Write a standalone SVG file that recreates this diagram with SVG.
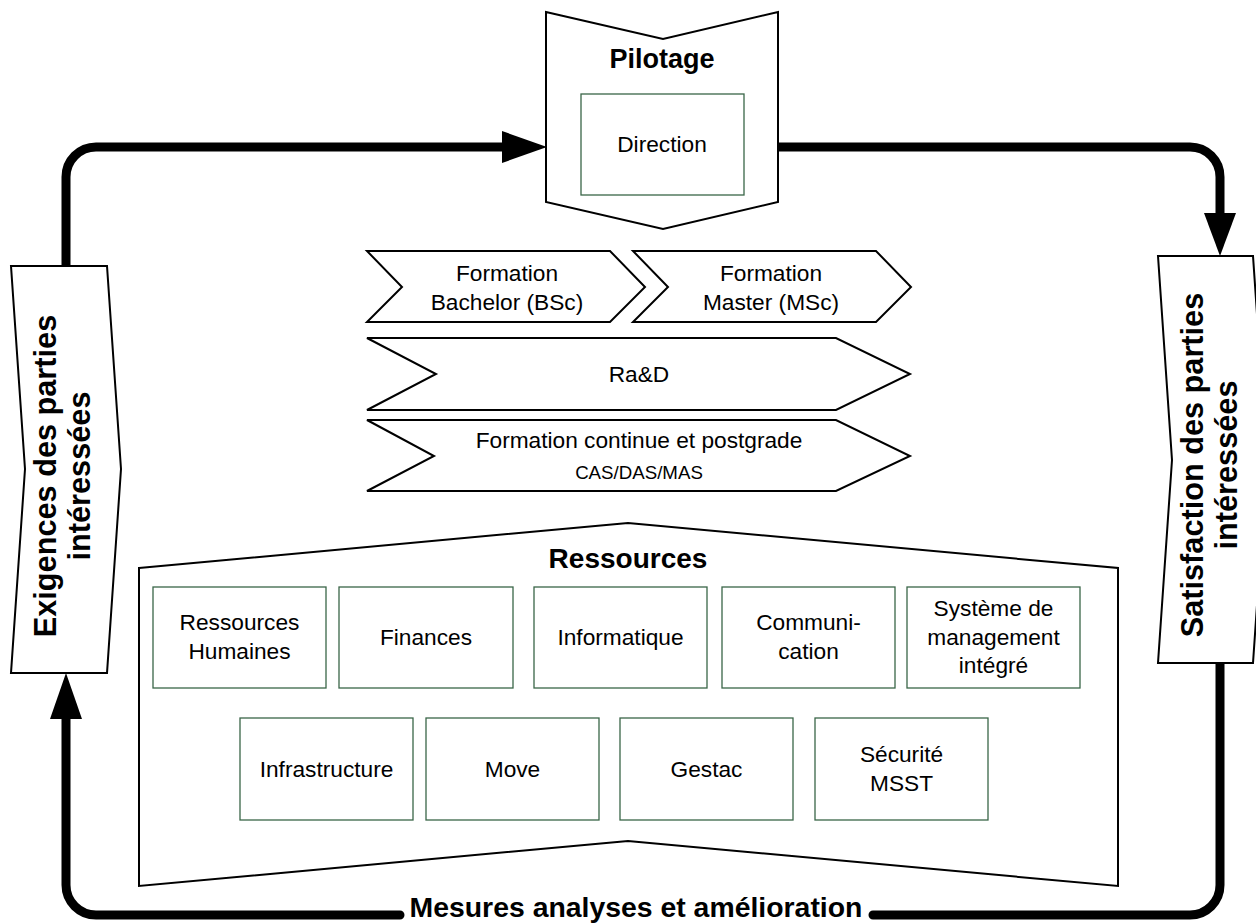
<svg xmlns="http://www.w3.org/2000/svg" width="1256" height="923" viewBox="0 0 1256 923">
<style>
.shape{fill:#fff;stroke:#000;stroke-width:2;stroke-linejoin:miter}
.box{fill:#fff;stroke:#3a6648;stroke-width:1.3}
.t{font-family:"Liberation Sans",Arial,sans-serif;font-size:22.7px;fill:#000;text-anchor:middle}
.s{font-size:18.7px}
.b{font-family:"Liberation Sans",Arial,sans-serif;font-weight:bold;fill:#000;text-anchor:middle}
.flow{fill:none;stroke:#000;stroke-width:9;stroke-linecap:round;stroke-linejoin:round}
.head{fill:#000;stroke:none}
</style>
<rect width="1256" height="923" fill="#fff"/>

<g id="connectors">
<path class="flow" d="M66,265 V177 A30,30 0 0 1 96,147 H505"/>
<polygon class="head" points="547,147 502,131 502,163"/>
<path class="flow" d="M778,147 H1190 A30,30 0 0 1 1220,177 V215"/>
<polygon class="head" points="1220,256 1204,213 1236,213"/>
<path class="flow" d="M400,915 H96 A30,30 0 0 1 66,885 V716"/>
<polygon class="head" points="66,673 50,719 82,719"/>
<path class="flow" d="M873,915 H1190 A30,30 0 0 0 1220,885 V663"/>
</g>

<g id="pilotage">
<polygon class="shape" points="546,12 663,39 778,12 778,202 663,229 546,202"/>
<text class="b" x="662" y="68" font-size="27">Pilotage</text>
</g>
<g id="direction">
<rect class="box" x="581" y="94" width="163" height="101"/>
<text class="t" x="662" y="152">Direction</text>
</g>

<g id="exigences">
<polygon class="shape" points="11,266 107,266 121,469 107,673 11,673 25,469"/>
<text class="b" font-size="30.7" transform="translate(0,476) rotate(-90)"><tspan x="0" y="56">Exigences des parties</tspan><tspan x="0" y="90">intéressées</tspan></text>
</g>

<g id="satisfaction">
<polygon class="shape" points="1158,256 1253,256 1267,460 1253,663 1158,663 1172,460"/>
<text class="b" font-size="30.7" transform="translate(0,465) rotate(-90)"><tspan x="0" y="1203">Satisfaction des parties</tspan><tspan x="0" y="1237">intéressées</tspan></text>
</g>

<g id="bachelor">
<polygon class="shape" points="367,251 610,251 645,287 610,322 367,322 402,287"/>
<text class="t"><tspan x="507" y="281">Formation</tspan><tspan x="507" y="310">Bachelor (BSc)</tspan></text>
</g>
<g id="master">
<polygon class="shape" points="633,251 876,251 911,287 876,322 633,322 668,287"/>
<text class="t"><tspan x="771" y="281">Formation</tspan><tspan x="771" y="310">Master (MSc)</tspan></text>
</g>
<g id="rad">
<polygon class="shape" points="367,338 836,338 910,374 836,410 367,410 436,374"/>
<text class="t" x="639" y="382">Ra&amp;D</text>
</g>
<g id="continue">
<polygon class="shape" points="367,420 836,420 910,456 836,491 367,491 434,456"/>
<text class="t" x="639" y="448">Formation continue et postgrade</text>
<text class="t s" x="639" y="479">CAS/DAS/MAS</text>
</g>

<g id="ressources">
<polygon class="shape" points="139,568 628,523 1118,568 1118,886 628,841 139,886"/>
<text class="b" x="628" y="568" font-size="28">Ressources</text>
</g>

<g id="rh"><rect class="box" x="153" y="587" width="173" height="101"/>
<text class="t"><tspan x="239.5" y="630">Ressources</tspan><tspan x="239.5" y="659">Humaines</tspan></text></g>
<g id="finances"><rect class="box" x="339" y="587" width="174" height="101"/>
<text class="t" x="426" y="645">Finances</text></g>
<g id="informatique"><rect class="box" x="534" y="587" width="173" height="101"/>
<text class="t" x="620.5" y="645">Informatique</text></g>
<g id="communication"><rect class="box" x="722" y="587" width="173" height="101"/>
<text class="t"><tspan x="808.5" y="630">Communi-</tspan><tspan x="808.5" y="659">cation</tspan></text></g>
<g id="smi"><rect class="box" x="907" y="587" width="173" height="101"/>
<text class="t"><tspan x="993.5" y="616">Système de</tspan><tspan x="993.5" y="645">management</tspan><tspan x="993.5" y="673">intégré</tspan></text></g>

<g id="infrastructure"><rect class="box" x="240" y="718" width="173" height="102"/>
<text class="t" x="326.5" y="777">Infrastructure</text></g>
<g id="move"><rect class="box" x="426" y="718" width="173" height="102"/>
<text class="t" x="512.5" y="777">Move</text></g>
<g id="gestac"><rect class="box" x="620" y="718" width="173" height="102"/>
<text class="t" x="706.5" y="777">Gestac</text></g>
<g id="securite"><rect class="box" x="815" y="718" width="173" height="102"/>
<text class="t"><tspan x="901.5" y="762">Sécurité</tspan><tspan x="901.5" y="791">MSST</tspan></text></g>

<g id="mesures">
<text class="b" x="636" y="917" font-size="28.4">Mesures analyses et amélioration</text>
</g>
</svg>
